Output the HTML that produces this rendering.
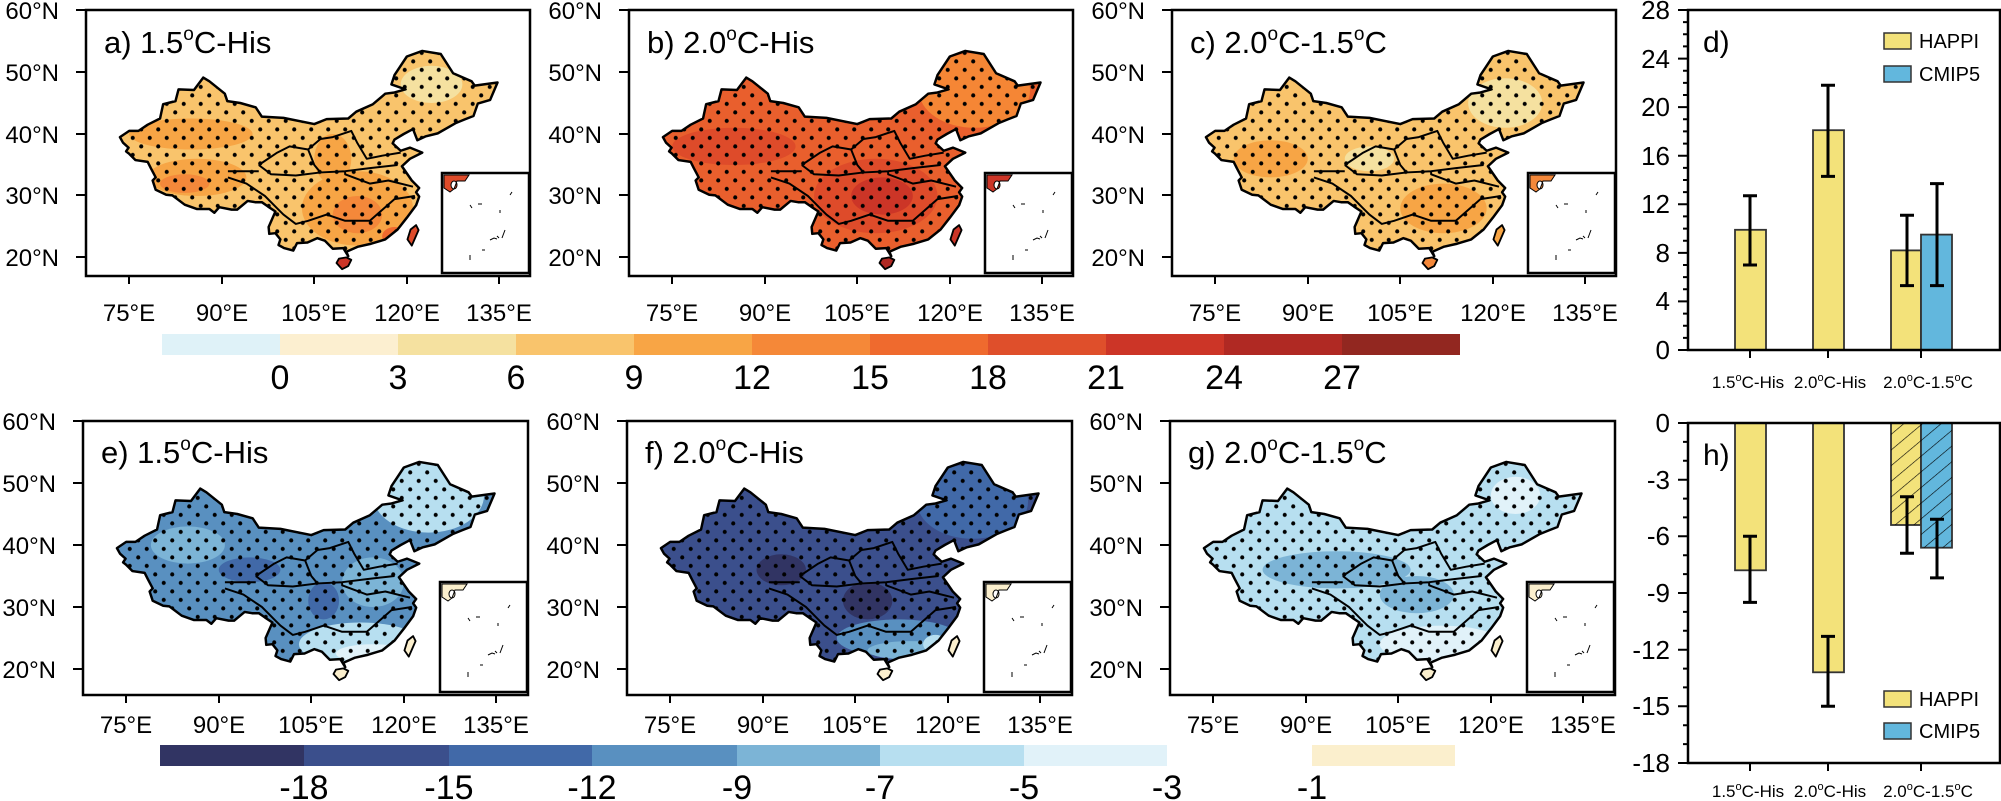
<!DOCTYPE html>
<html><head><meta charset="utf-8"><style>
html,body{margin:0;padding:0;background:#fff;}
svg{display:block;font-family:"Liberation Sans",Arial,sans-serif;}
</style></head><body>
<svg width="2001" height="801" viewBox="0 0 2001 801" xmlns="http://www.w3.org/2000/svg">
<defs>
<path id="china" d="M73.5,39.5 L75,40.5 76.5,40.5 78,41.5 80,42.5 80.5,44.8 82.5,45.3 83,47.2 85.5,47.1 87,49.1 88,48.5 90.5,46.5 90.9,45.3 93,45 95.5,44.3 96.5,42.8 100,42.6 105,41.6 107,42.4 110.5,42.5 111.8,43.6 114.5,44.8 116.5,46.5 118,46.7 119.8,47.2 117.5,48 118,49.5 120,52.5 122.5,53.4 125.5,52.9 127.5,49.8 130.5,48.5 131,47.8 134.7,48.3 133.5,45.5 131.5,44.9 130.8,42.9 129.5,42.4 128,41.8 125,40.1 123,39.6 121.7,39 121,40.8 119.5,40 118,39.1 117.7,38.5 119,37.3 120.5,37.8 122.5,37 120.5,36 119.2,34.8 120.8,32.5 122,31.3 121.5,30.6 122,29.9 121.5,28.5 120,26.5 118.5,24.6 116.5,23 114.2,22.3 112,21.8 110.2,21 110.5,20.3 109.7,21.6 108,21.5 106.7,22.8 105.5,23.2 103.9,22.5 102.2,22.4 101.6,21.2 100.1,21.6 99.2,22.1 99.5,23 98.7,24 97.7,23.9 97.6,25 98.7,27.5 97.5,28.3 96.5,29 95.4,29 94.2,29.2 92.5,27.8 91.6,27.8 89.6,28.2 88.8,27.3 88,27.9 86,27.9 84,28.6 82,30.1 81,30.2 79.3,31 78.8,32.5 79.3,33 78.5,34.5 78,35.5 76,35.8 75,36.8 74.5,37.2 74.9,37.8 74,38.6 Z"/>
<path id="hainan" d="M108.6,19.2 L109.5,18.2 110.5,18.7 111,19.7 110.2,20.1 109,19.9 Z"/>
<path id="taiwan" d="M120.1,23 L120.8,22 121.9,24.5 121.5,25.3 120.6,24.6 Z"/>
<path id="rivers" d="M96,35 L99,37 101,38 104,37.5 106,39.2 108,39.5 111,40.5 112,38.5 113.5,36 116,36.5 119,37 M118.5,35 L114,34.5 110,34 106,33.8 102,33.3 98,33.5 96,35 M91,34 L96,34 M110,34 L110,33.5 114,32 117,32.5 121,31.5 M121.3,30 L118,29.5 114,26 110,26 107,27 104,26 102,25.5 100,27 99,28 97,30 94,32 91,33 M104,37.5 L105,35 106,33.8"/>
<clipPath id="cc"><use href="#china"/></clipPath>
<pattern id="dots" patternUnits="userSpaceOnUse" width="2.755" height="2.742" x="0.5" y="0.3"><ellipse cx="0.69" cy="0.69" rx="0.33" ry="0.33" fill="#000"/><ellipse cx="2.067" cy="2.06" rx="0.33" ry="0.33" fill="#000"/></pattern>
<pattern id="hatch" patternUnits="userSpaceOnUse" width="12" height="12" patternTransform="rotate(-40)"><line x1="0" y1="0" x2="12" y2="0" stroke="#000" stroke-width="1.2"/></pattern>
</defs>

<!-- ===== MAP PANELS ===== -->
<g stroke-linejoin="round">
<!-- a -->
<g transform="translate(-333.56,382) scale(6.17,-6.2)">
<use href="#china" fill="#f9c46c"/>
<g clip-path="url(#cc)">
<ellipse cx="112" cy="28" rx="9" ry="6" fill="#f7a545"/><ellipse cx="86" cy="33" rx="8" ry="3" fill="#f7a545"/><ellipse cx="85" cy="40" rx="10" ry="2.5" fill="#f7a545"/><ellipse cx="108" cy="36" rx="3" ry="4" fill="#f7a545"/>
<ellipse cx="112" cy="27" rx="4" ry="3" fill="#f4883a"/><ellipse cx="84" cy="32" rx="4" ry="1.5" fill="#f4883a"/><ellipse cx="118" cy="23.5" rx="2" ry="1.5" fill="#ef6a2e"/>
<ellipse cx="124" cy="48" rx="5" ry="3" fill="#f5e1a0"/>
<rect x="68" y="15" width="72" height="45" fill="url(#dots)"/>
</g>
<use href="#hainan" fill="#cc3527"/><use href="#taiwan" fill="#de4b2a"/>
<g fill="none" stroke="#000"><use href="#china" stroke-width="0.4"/><use href="#hainan" stroke-width="0.3"/><use href="#taiwan" stroke-width="0.3"/><use href="#rivers" stroke-width="0.32"/></g>
</g>
<!-- b -->
<g transform="translate(209.44,382) scale(6.17,-6.2)">
<use href="#china" fill="#e95f2d"/>
<g clip-path="url(#cc)">
<ellipse cx="124" cy="47" rx="9" ry="6" fill="#f58635"/><ellipse cx="108" cy="30" rx="10" ry="6" fill="#de4b2a"/><ellipse cx="85" cy="38" rx="10" ry="3" fill="#de4b2a"/><ellipse cx="109" cy="30" rx="5" ry="3" fill="#cc3527"/>
<rect x="68" y="15" width="72" height="45" fill="url(#dots)"/>
</g>
<use href="#hainan" fill="#b02923"/><use href="#taiwan" fill="#cc3527"/>
<g fill="none" stroke="#000"><use href="#china" stroke-width="0.4"/><use href="#hainan" stroke-width="0.3"/><use href="#taiwan" stroke-width="0.3"/><use href="#rivers" stroke-width="0.32"/></g>
</g>
<!-- c -->
<g transform="translate(752.44,382) scale(6.17,-6.2)">
<use href="#china" fill="#f9c46c"/>
<g clip-path="url(#cc)">
<ellipse cx="112" cy="28" rx="7" ry="4" fill="#f7a545"/><ellipse cx="84" cy="36" rx="6" ry="3" fill="#f7a545"/><ellipse cx="122" cy="45" rx="6" ry="4" fill="#f5e1a0"/><ellipse cx="100" cy="36" rx="4" ry="2" fill="#f5e1a0"/>
<rect x="68" y="15" width="72" height="45" fill="url(#dots)"/>
</g>
<use href="#hainan" fill="#f4883a"/><use href="#taiwan" fill="#f7a545"/>
<g fill="none" stroke="#000"><use href="#china" stroke-width="0.4"/><use href="#hainan" stroke-width="0.3"/><use href="#taiwan" stroke-width="0.3"/><use href="#rivers" stroke-width="0.32"/></g>
</g>
<!-- e -->
<g transform="translate(-336.56,793) scale(6.17,-6.2)">
<use href="#china" fill="#5990c0"/>
<g clip-path="url(#cc)">
<ellipse cx="85" cy="40" rx="6" ry="3" fill="#7cb4d6"/><ellipse cx="115" cy="34" rx="5" ry="4" fill="#7cb4d6"/><ellipse cx="124" cy="48" rx="9" ry="6" fill="#b7dff0"/><ellipse cx="113" cy="24" rx="10" ry="3.5" fill="#b7dff0"/><ellipse cx="115" cy="22.5" rx="6" ry="1.5" fill="#e1f2f9"/><ellipse cx="107" cy="31" rx="2.5" ry="3" fill="#4169a8"/><ellipse cx="95" cy="36" rx="5" ry="2" fill="#4169a8"/>
<rect x="68" y="15" width="72" height="45" fill="url(#dots)"/>
</g>
<use href="#hainan" fill="#fbefcd"/><use href="#taiwan" fill="#fbefcd"/>
<g fill="none" stroke="#000"><use href="#china" stroke-width="0.4"/><use href="#hainan" stroke-width="0.3"/><use href="#taiwan" stroke-width="0.3"/><use href="#rivers" stroke-width="0.32"/></g>
</g>
<!-- f -->
<g transform="translate(207.44,793) scale(6.17,-6.2)">
<use href="#china" fill="#3b4f8c"/>
<g clip-path="url(#cc)">
<ellipse cx="124" cy="47" rx="9" ry="6" fill="#4169a8"/><ellipse cx="93" cy="36" rx="4" ry="2.5" fill="#313463"/><ellipse cx="107" cy="31" rx="4" ry="3" fill="#313463"/><ellipse cx="112" cy="25" rx="10" ry="3" fill="#5990c0"/><ellipse cx="114" cy="23" rx="7" ry="1.5" fill="#7cb4d6"/><ellipse cx="118" cy="24" rx="2" ry="1.5" fill="#b7dff0"/>
<rect x="68" y="15" width="72" height="45" fill="url(#dots)"/>
</g>
<use href="#hainan" fill="#fbefcd"/><use href="#taiwan" fill="#fbefcd"/>
<g fill="none" stroke="#000"><use href="#china" stroke-width="0.4"/><use href="#hainan" stroke-width="0.3"/><use href="#taiwan" stroke-width="0.3"/><use href="#rivers" stroke-width="0.32"/></g>
</g>
<!-- g -->
<g transform="translate(750.44,793) scale(6.17,-6.2)">
<use href="#china" fill="#b7dff0"/>
<g clip-path="url(#cc)">
<ellipse cx="95" cy="36" rx="12" ry="3" fill="#7cb4d6"/><ellipse cx="108" cy="32" rx="6" ry="3" fill="#7cb4d6"/><ellipse cx="112" cy="24" rx="10" ry="3" fill="#e1f2f9"/><ellipse cx="124" cy="48" rx="4" ry="3" fill="#e1f2f9"/>
<rect x="68" y="15" width="72" height="45" fill="url(#dots)"/>
</g>
<use href="#hainan" fill="#fbefcd"/><use href="#taiwan" fill="#fbefcd"/>
<g fill="none" stroke="#000"><use href="#china" stroke-width="0.4"/><use href="#hainan" stroke-width="0.3"/><use href="#taiwan" stroke-width="0.3"/><use href="#rivers" stroke-width="0.32"/></g>
</g>
</g>

<!-- insets -->
<g stroke="#000" stroke-width="2.5" fill="#fff">
<rect x="442" y="173" width="87" height="100"/><rect x="985" y="173" width="87" height="100"/><rect x="1528" y="173" width="87" height="100"/>
<rect x="440" y="582" width="87" height="110"/><rect x="984" y="582" width="87" height="110"/><rect x="1527" y="582" width="87" height="110"/>
</g>
<g stroke="#000" stroke-width="1" >
<path d="M444,175 h25 l-4,6 h-8 l-3,8 -4,3 -6,-4z M451,185 a3,4 0 1 0 6,0 a3,4 0 1 0 -6,0" fill="#de4b2a"/>
<path d="M987,175 h25 l-4,6 h-8 l-3,8 -4,3 -6,-4z M994,185 a3,4 0 1 0 6,0 a3,4 0 1 0 -6,0" fill="#cc3527"/>
<path d="M1530,175 h25 l-4,6 h-8 l-3,8 -4,3 -6,-4z M1537,185 a3,4 0 1 0 6,0 a3,4 0 1 0 -6,0" fill="#f4883a"/>
<path d="M442,584 h25 l-4,6 h-8 l-3,8 -4,3 -6,-4z M449,594 a3,4 0 1 0 6,0 a3,4 0 1 0 -6,0" fill="#fbefcd"/>
<path d="M986,584 h25 l-4,6 h-8 l-3,8 -4,3 -6,-4z M993,594 a3,4 0 1 0 6,0 a3,4 0 1 0 -6,0" fill="#fbefcd"/>
<path d="M1529,584 h25 l-4,6 h-8 l-3,8 -4,3 -6,-4z M1536,594 a3,4 0 1 0 6,0 a3,4 0 1 0 -6,0" fill="#fbefcd"/>
</g>
<g stroke="#000" stroke-width="1" fill="none">
<path d="M470,205 l2,3 M478,204 h4 M500,210 v3 M505,230 l-3,8 M490,240 l4,-2 3,1 M497,236 l2,2 M482,250 h3 M470,255 v5 M510,195 l2,-3"/>
<path d="M1013,205 l2,3 M1021,204 h4 M1043,210 v3 M1048,230 l-3,8 M1033,240 l4,-2 3,1 M1040,236 l2,2 M1025,250 h3 M1013,255 v5 M1053,195 l2,-3"/>
<path d="M1556,205 l2,3 M1564,204 h4 M1586,210 v3 M1591,230 l-3,8 M1576,240 l4,-2 3,1 M1583,236 l2,2 M1568,250 h3 M1556,255 v5 M1596,195 l2,-3"/>
<path d="M468,618 l2,3 M476,617 h4 M498,623 v3 M503,645 l-3,8 M488,655 l4,-2 3,1 M495,651 l2,2 M480,665 h3 M468,672 v5 M508,608 l2,-3"/>
<path d="M1012,618 l2,3 M1020,617 h4 M1042,623 v3 M1047,645 l-3,8 M1032,655 l4,-2 3,1 M1039,651 l2,2 M1024,665 h3 M1012,672 v5 M1052,608 l2,-3"/>
<path d="M1555,618 l2,3 M1563,617 h4 M1585,623 v3 M1590,645 l-3,8 M1575,655 l4,-2 3,1 M1582,651 l2,2 M1567,665 h3 M1555,672 v5 M1595,608 l2,-3"/>
</g>

<!-- frames and ticks -->
<g fill="none" stroke="#000" stroke-width="2.5">
<rect x="86" y="10" width="444" height="266"/><rect x="629" y="10" width="444" height="266"/><rect x="1172" y="10" width="444" height="266"/>
<rect x="83" y="421" width="445" height="274"/><rect x="627" y="421" width="445" height="274"/><rect x="1170" y="421" width="445" height="274"/>
</g>
<g stroke="#000" stroke-width="2">
<path d="M86,10h-10M86,72h-10M86,134h-10M86,195h-10M86,257h-10 M629,10h-10M629,72h-10M629,134h-10M629,195h-10M629,257h-10 M1172,10h-10M1172,72h-10M1172,134h-10M1172,195h-10M1172,257h-10"/>
<path d="M83,421h-10M83,483h-10M83,545h-10M83,607h-10M83,669h-10 M627,421h-10M627,483h-10M627,545h-10M627,607h-10M627,669h-10 M1170,421h-10M1170,483h-10M1170,545h-10M1170,607h-10M1170,669h-10"/>
<path d="M129,276v8M222,276v8M314,276v8M407,276v8M499,276v8 M672,276v8M765,276v8M857,276v8M950,276v8M1042,276v8 M1215,276v8M1308,276v8M1400,276v8M1493,276v8M1585,276v8"/>
<path d="M126,695v8M219,695v8M311,695v8M404,695v8M496,695v8 M670,695v8M763,695v8M855,695v8M948,695v8M1040,695v8 M1213,695v8M1306,695v8M1398,695v8M1491,695v8M1583,695v8"/>
</g>

<!-- lat labels -->
<g font-size="24" text-anchor="end" fill="#000">
<text x="59" y="19">60°N</text><text x="59" y="81">50°N</text><text x="59" y="143">40°N</text><text x="59" y="204">30°N</text><text x="59" y="266">20°N</text>
<text x="602" y="19">60°N</text><text x="602" y="81">50°N</text><text x="602" y="143">40°N</text><text x="602" y="204">30°N</text><text x="602" y="266">20°N</text>
<text x="1145" y="19">60°N</text><text x="1145" y="81">50°N</text><text x="1145" y="143">40°N</text><text x="1145" y="204">30°N</text><text x="1145" y="266">20°N</text>
<text x="56" y="430">60°N</text><text x="56" y="492">50°N</text><text x="56" y="554">40°N</text><text x="56" y="616">30°N</text><text x="56" y="678">20°N</text>
<text x="600" y="430">60°N</text><text x="600" y="492">50°N</text><text x="600" y="554">40°N</text><text x="600" y="616">30°N</text><text x="600" y="678">20°N</text>
<text x="1143" y="430">60°N</text><text x="1143" y="492">50°N</text><text x="1143" y="554">40°N</text><text x="1143" y="616">30°N</text><text x="1143" y="678">20°N</text>
</g>
<!-- lon labels -->
<g font-size="24" text-anchor="middle" fill="#000">
<text x="129" y="321">75°E</text><text x="222" y="321">90°E</text><text x="314" y="321">105°E</text><text x="407" y="321">120°E</text><text x="499" y="321">135°E</text>
<text x="672" y="321">75°E</text><text x="765" y="321">90°E</text><text x="857" y="321">105°E</text><text x="950" y="321">120°E</text><text x="1042" y="321">135°E</text>
<text x="1215" y="321">75°E</text><text x="1308" y="321">90°E</text><text x="1400" y="321">105°E</text><text x="1493" y="321">120°E</text><text x="1585" y="321">135°E</text>
<text x="126" y="733">75°E</text><text x="219" y="733">90°E</text><text x="311" y="733">105°E</text><text x="404" y="733">120°E</text><text x="496" y="733">135°E</text>
<text x="670" y="733">75°E</text><text x="763" y="733">90°E</text><text x="855" y="733">105°E</text><text x="948" y="733">120°E</text><text x="1040" y="733">135°E</text>
<text x="1213" y="733">75°E</text><text x="1306" y="733">90°E</text><text x="1398" y="733">105°E</text><text x="1491" y="733">120°E</text><text x="1583" y="733">135°E</text>
</g>
<!-- titles -->
<g font-size="31" fill="#000">
<text x="104" y="53">a) 1.5<tspan dy="-13" font-size="19">o</tspan><tspan dy="13">C-His</tspan></text>
<text x="647" y="53">b) 2.0<tspan dy="-13" font-size="19">o</tspan><tspan dy="13">C-His</tspan></text>
<text x="1190" y="53">c) 2.0<tspan dy="-13" font-size="19">o</tspan><tspan dy="13">C-1.5</tspan><tspan dy="-13" font-size="19">o</tspan><tspan dy="13">C</tspan></text>
<text x="101" y="463">e) 1.5<tspan dy="-13" font-size="19">o</tspan><tspan dy="13">C-His</tspan></text>
<text x="645" y="463">f) 2.0<tspan dy="-13" font-size="19">o</tspan><tspan dy="13">C-His</tspan></text>
<text x="1188" y="463">g) 2.0<tspan dy="-13" font-size="19">o</tspan><tspan dy="13">C-1.5</tspan><tspan dy="-13" font-size="19">o</tspan><tspan dy="13">C</tspan></text>
</g>

<!-- top colorbar -->
<g>
<rect x="162" y="334" width="118" height="21" fill="#dff2f8"/>
<rect x="280" y="334" width="118" height="21" fill="#fcefd0"/>
<rect x="398" y="334" width="118" height="21" fill="#f5e1a0"/>
<rect x="516" y="334" width="118" height="21" fill="#f9c46c"/>
<rect x="634" y="334" width="118" height="21" fill="#f8a545"/>
<rect x="752" y="334" width="118" height="21" fill="#f58838"/>
<rect x="870" y="334" width="118" height="21" fill="#ef6a2e"/>
<rect x="988" y="334" width="118" height="21" fill="#df4f2b"/>
<rect x="1106" y="334" width="118" height="21" fill="#cc3527"/>
<rect x="1224" y="334" width="118" height="21" fill="#b02923"/>
<rect x="1342" y="334" width="118" height="21" fill="#922720"/>
</g>
<g font-size="34" text-anchor="middle" fill="#000">
<text x="280" y="389">0</text><text x="398" y="389">3</text><text x="516" y="389">6</text><text x="634" y="389">9</text><text x="752" y="389">12</text><text x="870" y="389">15</text><text x="988" y="389">18</text><text x="1106" y="389">21</text><text x="1224" y="389">24</text><text x="1342" y="389">27</text>
</g>
<!-- bottom colorbar -->
<g>
<rect x="160" y="745" width="144" height="21" fill="#313463"/>
<rect x="304" y="745" width="145" height="21" fill="#3b4f8c"/>
<rect x="449" y="745" width="143" height="21" fill="#4169a8"/>
<rect x="592" y="745" width="145" height="21" fill="#5990c0"/>
<rect x="737" y="745" width="143" height="21" fill="#7cb4d6"/>
<rect x="880" y="745" width="144" height="21" fill="#b7dff0"/>
<rect x="1024" y="745" width="143" height="21" fill="#e1f2f9"/>
<rect x="1312" y="745" width="143" height="21" fill="#fbefcd"/>
</g>
<g font-size="34" text-anchor="middle" fill="#000">
<text x="304" y="799">-18</text><text x="449" y="799">-15</text><text x="592" y="799">-12</text><text x="737" y="799">-9</text><text x="880" y="799">-7</text><text x="1024" y="799">-5</text><text x="1167" y="799">-3</text><text x="1312" y="799">-1</text>
</g>

<!-- ===== BAR CHART d ===== -->
<g stroke="#333" stroke-width="1.8">
<rect x="1735" y="229.8" width="31" height="120.2" fill="#f3e27a"/>
<rect x="1813" y="130.2" width="31" height="219.8" fill="#f3e27a"/>
<rect x="1891" y="250.4" width="30" height="99.6" fill="#f3e27a"/>
<rect x="1921" y="234.6" width="31" height="115.4" fill="#62b7dd"/>
</g>
<g stroke="#000" stroke-width="3">
<path d="M1750,265V195.8M1743,265h14M1743,195.8h14"/>
<path d="M1828,176.4V85.3M1821,176.4h14M1821,85.3h14"/>
<path d="M1907,285.6V215.2M1900,285.6h14M1900,215.2h14"/>
<path d="M1937,285.6V183.6M1930,285.6h14M1930,183.6h14"/>
</g>
<g fill="none" stroke="#000" stroke-width="2.5"><rect x="1688" y="10" width="312" height="340"/></g>
<g stroke="#000" stroke-width="2">
<path d="M1688,350h-10M1688,301.4h-10M1688,252.9h-10M1688,204.3h-10M1688,155.7h-10M1688,107.1h-10M1688,58.6h-10M1688,10h-10"/>
<path d="M1688,337.9h-5M1688,325.7h-5M1688,313.6h-5M1688,289.3h-5M1688,277.1h-5M1688,265h-5M1688,240.7h-5M1688,228.6h-5M1688,216.4h-5M1688,192.1h-5M1688,180h-5M1688,167.9h-5M1688,143.6h-5M1688,131.4h-5M1688,119.3h-5M1688,95h-5M1688,82.9h-5M1688,70.7h-5M1688,46.4h-5M1688,34.3h-5M1688,22.1h-5"/>
<path d="M1750,350v8M1828,350v8M1921,350v8"/>
</g>
<g font-size="26" text-anchor="end" fill="#000">
<text x="1670" y="359">0</text><text x="1670" y="310">4</text><text x="1670" y="262">8</text><text x="1670" y="213">12</text><text x="1670" y="165">16</text><text x="1670" y="116">20</text><text x="1670" y="68">24</text><text x="1670" y="19">28</text>
</g>
<text x="1703" y="52" font-size="30">d)</text>
<rect x="1884" y="33" width="27" height="16" fill="#f3e27a" stroke="#333" stroke-width="1.5"/>
<rect x="1884" y="66" width="27" height="16" fill="#62b7dd" stroke="#333" stroke-width="1.5"/>
<text x="1919" y="48" font-size="20">HAPPI</text><text x="1919" y="81" font-size="20">CMIP5</text>
<g font-size="17" text-anchor="middle" fill="#000">
<text x="1748" y="388">1.5<tspan dy="-7" font-size="11">o</tspan><tspan dy="7">C-His</tspan></text>
<text x="1830" y="388">2.0<tspan dy="-7" font-size="11">o</tspan><tspan dy="7">C-His</tspan></text>
<text x="1928" y="388">2.0<tspan dy="-7" font-size="11">o</tspan><tspan dy="7">C-1.5</tspan><tspan dy="-7" font-size="11">o</tspan><tspan dy="7">C</tspan></text>
</g>

<!-- ===== BAR CHART h ===== -->
<g stroke="#333" stroke-width="1.8">
<rect x="1735" y="423" width="31" height="147.3" fill="#f3e27a"/>
<rect x="1813" y="423" width="31" height="249.3" fill="#f3e27a"/>
<rect x="1891" y="423" width="30" height="102" fill="#f3e27a"/>
<rect x="1921" y="423" width="31" height="124.7" fill="#62b7dd"/>
</g>
<rect x="1891" y="423" width="30" height="102" fill="url(#hatch)"/>
<rect x="1921" y="423" width="31" height="124.7" fill="url(#hatch)"/>
<g stroke="#000" stroke-width="3">
<path d="M1750,536.3V602.4M1743,536.3h14M1743,602.4h14"/>
<path d="M1828,636.4V706.3M1821,636.4h14M1821,706.3h14"/>
<path d="M1907,496.7V553.3M1900,496.7h14M1900,553.3h14"/>
<path d="M1937,519.3V577.9M1930,519.3h14M1930,577.9h14"/>
</g>
<g fill="none" stroke="#000" stroke-width="2.5"><rect x="1688" y="423" width="312" height="340"/></g>
<g stroke="#000" stroke-width="2">
<path d="M1688,423h-10M1688,479.7h-10M1688,536.3h-10M1688,593h-10M1688,649.7h-10M1688,706.3h-10M1688,763h-10"/>
<path d="M1688,441.9h-5M1688,460.8h-5M1688,498.6h-5M1688,517.4h-5M1688,555.2h-5M1688,574.1h-5M1688,611.9h-5M1688,630.8h-5M1688,668.6h-5M1688,687.4h-5M1688,725.2h-5M1688,744.1h-5"/>
<path d="M1750,763v8M1828,763v8M1921,763v8"/>
</g>
<g font-size="26" text-anchor="end" fill="#000">
<text x="1670" y="432">0</text><text x="1670" y="489">-3</text><text x="1670" y="545">-6</text><text x="1670" y="602">-9</text><text x="1670" y="659">-12</text><text x="1670" y="715">-15</text><text x="1670" y="772">-18</text>
</g>
<text x="1703" y="465" font-size="30">h)</text>
<rect x="1884" y="691" width="27" height="16" fill="#f3e27a" stroke="#333" stroke-width="1.5"/>
<rect x="1884" y="723" width="27" height="16" fill="#62b7dd" stroke="#333" stroke-width="1.5"/>
<text x="1919" y="706" font-size="20">HAPPI</text><text x="1919" y="738" font-size="20">CMIP5</text>
<g font-size="17" text-anchor="middle" fill="#000">
<text x="1748" y="797">1.5<tspan dy="-7" font-size="11">o</tspan><tspan dy="7">C-His</tspan></text>
<text x="1830" y="797">2.0<tspan dy="-7" font-size="11">o</tspan><tspan dy="7">C-His</tspan></text>
<text x="1928" y="797">2.0<tspan dy="-7" font-size="11">o</tspan><tspan dy="7">C-1.5</tspan><tspan dy="-7" font-size="11">o</tspan><tspan dy="7">C</tspan></text>
</g>
</svg>
</body></html>
